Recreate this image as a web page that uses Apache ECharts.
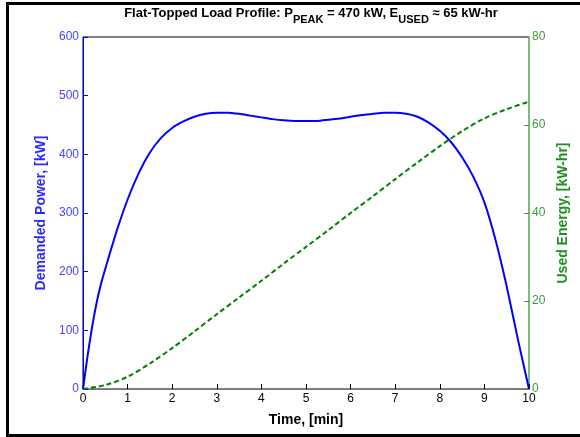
<!DOCTYPE html>
<html>
<head>
<meta charset="utf-8">
<script src="https://cdn.jsdelivr.net/npm/echarts@6/dist/echarts.min.js"></script>
<style>
  html, body { margin: 0; padding: 0; background: #fff; }
  #chart { width: 580px; height: 437px; }
</style>
</head>
<body>
<div id="chart"></div>
<script>
// power curve
var powerTime = [0, 0.1, 0.2, 0.3, 0.4, 0.5, 0.75, 1, 1.25, 1.5, 1.75, 2, 2.25, 2.5, 2.75, 3,
  3.25, 3.5, 3.75, 4, 4.25, 4.5, 4.75, 5, 5.25, 5.5, 5.75, 6, 6.25, 6.5, 6.75, 7,
  7.25, 7.5, 7.75, 8, 8.25, 8.5, 8.75, 9, 9.25, 9.5, 9.75, 10];
var powerKW = [0, 55, 104, 145, 178, 205, 268, 323, 368, 403, 428, 445, 456, 464, 469, 471,
  471, 469, 466, 463, 460, 458, 457, 457, 457, 459, 461, 464, 467, 469, 471, 471,
  469, 464, 454, 440, 421, 395, 362, 318, 254, 175, 85, 0];

// used energy curve
var energyTime = [0, 0.5, 1, 1.5, 2, 2.5, 3, 3.5, 4, 4.5, 5, 5.5, 6, 6.5, 7, 7.5, 8, 8.5, 9, 9.5, 10];
var energyKWh = [0, 0.9, 2.8, 5.8, 9.3, 13.1, 17.0, 20.8, 24.6, 28.5, 32.3, 36.1, 40.0, 43.8,
  47.7, 51.5, 55.2, 58.6, 61.5, 63.6, 65.3];

var chart = echarts.init(document.getElementById('chart'));

function pairs(xs, ys) {
  return xs.map(function (x, i) { return [x, ys[i]]; });
}

var font = 'Liberation Sans, Arial, sans-serif';

chart.setOption({
  animation: false,
  textStyle: { fontFamily: font },
  title: {
    left: 306,
    textAlign: 'center',
    top: 2,
    text: '{b|Flat-Topped Load Profile: P}{s|PEAK}{b| = 470 kW, E}{s|USED}{b| \u2248 65 kW-hr}',
    textStyle: {
      rich: {
        b: { fontFamily: font, fontWeight: 'bold', fontSize: 13, color: '#000', verticalAlign: 'top', lineHeight: 19 },
        s: { fontFamily: font, fontWeight: 'bold', fontSize: 11, color: '#000', padding: [7, 0, 0, 0], verticalAlign: 'top', lineHeight: 19 }
      }
    }
  },
  graphic: [{
    type: 'rect',
    shape: { x: 7.5, y: 3.5, width: 600, height: 432 },
    style: { fill: 'none', stroke: '#000', lineWidth: 3 },
    silent: true
  }],
  grid: {
    left: 83, right: 51, top: 37, bottom: 48,
    show: true, borderColor: '#000', borderWidth: 1
  },
  xAxis: {
    type: 'value', min: 0, max: 10, interval: 1,
    name: 'Time, [min]', nameLocation: 'middle', nameGap: 24,
    nameTextStyle: { fontWeight: 'bold', fontSize: 14, color: '#000' },
    axisLine: { lineStyle: { color: '#777', width: 1 } },
    axisTick: { inside: true, length: 5, lineStyle: { color: '#000' } },
    axisLabel: { color: '#000', fontSize: 12, margin: 4 },
    splitLine: { show: false }
  },
  yAxis: [{
    type: 'value', min: 0, max: 600, interval: 100, position: 'left',
    name: 'Demanded Power, [kW]', nameLocation: 'middle', nameGap: 35, nameRotate: 90,
    nameTextStyle: { fontWeight: 'bold', fontSize: 14, color: '#2a2aff' },
    axisLine: { show: true, lineStyle: { color: '#0000ff', width: 1 } },
    axisTick: { show: true, inside: true, length: 5, lineStyle: { color: '#0000ff' } },
    axisLabel: { color: '#4444ff', fontSize: 12, margin: 4 },
    splitLine: { show: false }
  }, {
    type: 'value', min: 0, max: 80, interval: 20, position: 'right',
    name: 'Used Energy, [kW-hr]', nameLocation: 'middle', nameGap: 24, nameRotate: 90,
    nameTextStyle: { fontWeight: 'bold', fontSize: 14, color: '#1f8f1f' },
    axisLine: { show: true, lineStyle: { color: '#7cbd7c', width: 2 } },
    axisTick: { show: true, inside: true, length: 5, lineStyle: { color: '#3a9a3a' } },
    axisLabel: { color: '#3a9a3a', fontSize: 12, margin: 3 },
    splitLine: { show: false }
  }],
  series: [{
    type: 'line', name: 'Power', yAxisIndex: 0,
    data: pairs(powerTime, powerKW),
    smooth: 0.2, symbol: 'none',
    lineStyle: { color: '#0000ff', width: 2 },
    z: 3
  }, {
    type: 'line', name: 'Energy', yAxisIndex: 1,
    data: pairs(energyTime, energyKWh),
    smooth: 0.3, symbol: 'none',
    lineStyle: { color: '#008000', width: 2, type: [5, 3] },
    z: 2
  }]
});
</script>
</body>
</html>
